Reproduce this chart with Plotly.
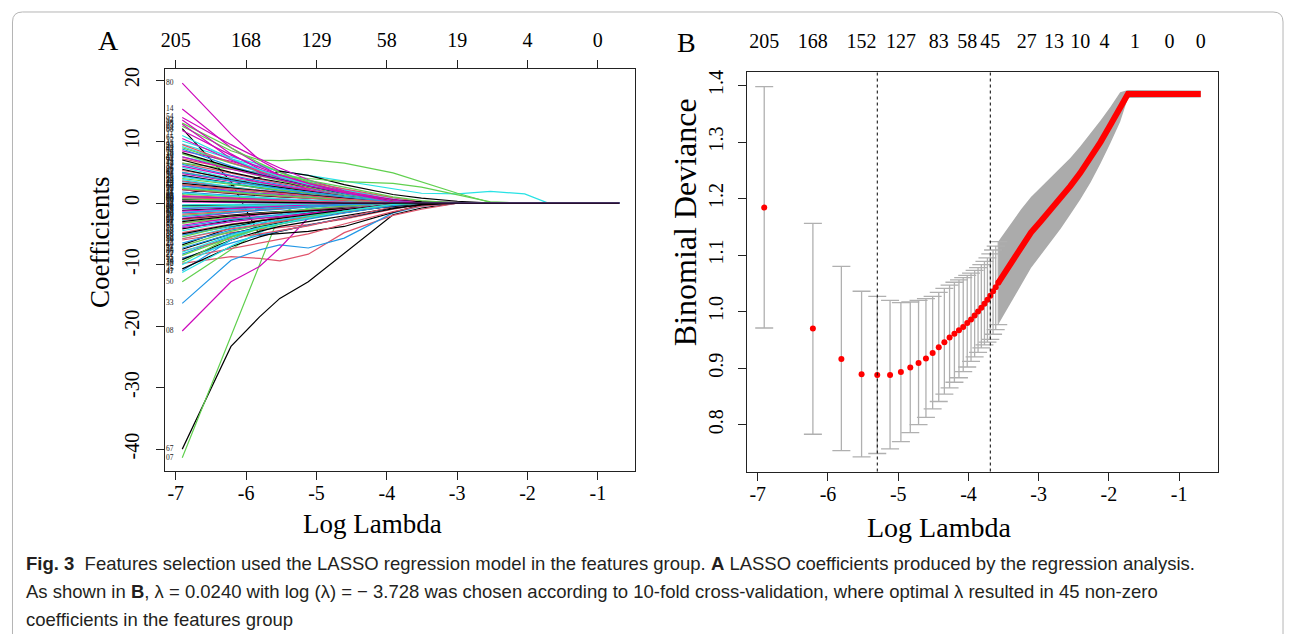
import numpy as np
import plotly.graph_objects as go

# ---------------- Panel A : LASSO coefficient paths ----------------
A_KNOTS_LOGLAM = [-6.908, -6.215, -5.809, -5.521, -5.116, -4.605, -3.912,
                  -3.507, -2.996, -2.526, -2.040, -1.715, -0.693]
A_BOTTOM_TICKS = [-7, -6, -5, -4, -3, -2, -1]
A_BOTTOM_TEXT = ["-7", "-6", "-5", "-4", "-3", "-2", "-1"]
A_TOP_DF = ["205", "168", "129", "58", "19", "4", "0"]
A_Y_TICKS = [-40, -30, -20, -10, 0, 10, 20]
A_Y_TEXT = ["-40", "-30", "-20", "-10", "0", "10", "20"]

A_PATHS = [
    [-40.0, -23.3, -18.5, -15.5, -12.8, -8.2, -1.9, -0.8, 0],
    [-9.8, -8.7, -9.0, -9.4, -8.3, -4.8, -2.0, -1.0, 0],
    [-41.4, -21.7, -10.1, -1.8, 0.4, 0.2, 0],
    [-16.3, -9.3, -7.6, -6.8, -7.3, -5.7, -1.6, -0.5, 0],
    [9.6, 7.2, 6.0, 5.2, 4.5, 3.6, 2.3, 1.6, 1.5, 1.9, 1.5, 0.05, 0],
    [-20.8, -12.8, -10.3, -7.3, -2.4, -0.5, 0],

    [12.1, 3.5, -5.2, -5.0, -4.6, -3.8, -1.5, -0.3, 0],
    [6.5, 4.8, 3.9, 3.2, 2.4, 1.6, 0.6, 0],
    [-12.8, -7.5, -4.5, -2.5, -0.8, 0],
    [-11.0, -6.0, -3.5, -2.2, -1.4, -0.6, 0],
    [10.1, 7.5, 6.3, 5.0, 3.6, 2.2, 0.4, 0],
    [19.5, 11.2, 7.0, 5.2, 3.0, 1.2, 0],

    [1.5, 2.8, 4.2, 5.2, 4.5, 3.0, 1.4, 0.8, 0.3, 0],
    [-6.0, -4.8, -4.3, -4.0, -3.5, -2.6, -1.0, -0.2, 0],
    [12.5, 8.5, 7.0, 6.9, 7.1, 6.5, 4.9, 3.4, 1.6, 0.1, 0],
    [3.5, 2.5, 2.0, 1.6, 1.0, 0.4, 0],
    [7.5, 5.8, 4.6, 3.9, 3.0, 2.1, 0.8, 0.1, 0],
    [15.3, 9.0, 6.2, 4.5, 2.8, 1.2, 0],

    [-10.7, -7.1, -5.5, -4.6, -3.6, -2.5, -0.9, -0.2, 0],
    [-8.9, -7.4, -6.6, -6.0, -5.0, -3.4, -1.4, -0.5, 0],
    [6.5, 5.5, 5.0, 4.6, 4.0, 3.5, 3.2, 2.6, 1.3, 0.2, 0],
    [-9.0, -6.5, -5.2, -4.5, -3.6, -2.4, -0.7, 0],
    [-11.3, -7.0, -4.8, -3.3, -1.8, -0.6, 0],
    [13.9, 9.5, 7.2, 5.7, 3.8, 2.0, 0.3, 0],

    [-9.2, -6.0, -4.6, -3.8, -3.0, -2.1, -0.8, -0.3, 0],
    [7.2, 5.6, 4.8, 4.2, 3.4, 2.3, 0.9, 0.2, 0],
    [13.0, 9.0, 6.5, 5.0, 3.4, 1.8, 0.2, 0],
    [-8.3, -5.4, -4.0, -3.1, -2.0, -0.9, 0],
    [9.2, 6.5, 5.0, 4.1, 3.0, 1.8, 0.3, 0],
    [13.5, 8.0, 5.5, 4.0, 2.5, 1.0, 0],

    [4.5, 3.2, 2.5, 2.0, 1.6, 1.0, 0.4, 0.2, 0.1, 0],
    [-7.8, -5.8, -5.0, -4.5, -3.7, -2.4, -0.6, 0],
    [-9.6, -5.5, -3.8, -2.9, -2.0, -1.0, 0],
    [6.3, 4.5, 3.6, 3.0, 2.2, 1.3, 0.2, 0],
    [-10.0, -6.0, -4.0, -3.0, -2.0, -1.0, 0],
    [12.8, 7.2, 5.0, 3.8, 2.2, 0.8, 0],

    [-4.2, -2.8, -2.4, -2.2, -1.8, -1.3, -0.5, -0.1, 0],
    [5.3, 4.0, 3.3, 2.8, 2.1, 1.2, 0.2, 0],
    [9.0, 6.5, 5.3, 4.6, 3.7, 2.6, 1.0, 0.4, 0],
    [-5.2, -3.8, -3.2, -2.8, -2.2, -1.4, -0.4, 0],
    [5.8, 4.0, 3.2, 2.6, 1.9, 1.0, 0.1, 0],
    [8.5, 6.8, 5.5, 4.5, 3.2, 1.9, 0.6, 0],

    [-1.2, -0.8, -0.7, -0.6, -0.5, -0.3, -0.1, 0],
    [-3.2, -2.5, -2.2, -2.0, -1.6, -1.0, -0.3, 0],
    [3.0, 2.2, 1.8, 1.5, 1.2, 0.7, 0.2, 0],
    [-3.8, -2.7, -2.2, -1.9, -1.4, -0.7, 0],
    [2.5, 1.8, 1.4, 1.2, 0.9, 0.5, 0.1, 0],
    [-2.5, -1.6, -1.2, -1.0, -0.6, -0.2, 0],

    [2.2, 1.5, 1.2, 1.0, 0.8, 0.5, 0.2, 0.1, 0],
    [3.6, 2.6, 2.1, 1.8, 1.4, 0.8, 0.1, 0],
    [-5.5, -3.6, -2.8, -2.4, -1.8, -1.1, -0.3, 0],
    [1.8, 1.2, 0.9, 0.7, 0.5, 0.2, 0],
    [-2.8, -2.0, -1.6, -1.4, -1.0, -0.5, 0],
    [4.8, 3.5, 2.8, 2.3, 1.7, 1.0, 0.2, 0],

    [-6.8, -4.0, -2.9, -2.3, -1.6, -0.9, -0.2, 0],
    [1.2, 0.9, 0.7, 0.6, 0.4, 0.2, 0],
    [-2.0, -1.4, -1.1, -0.9, -0.6, -0.2, 0],
    [4.4, 3.1, 2.4, 2.0, 1.4, 0.7, 0],
    [-1.5, -1.0, -0.8, -0.6, -0.4, -0.1, 0],
    [2.8, 2.0, 1.6, 1.4, 1.0, 0.6, 0.1, 0],

    [0.6, 0.5, 0.4, 0.4, 0.3, 0.2, 0.1, 0],
    [-1.8, -1.3, -1.0, -0.9, -0.6, -0.3, 0],
    [1.5, 1.0, 0.8, 0.6, 0.4, 0.1, 0],
    [-0.9, -0.6, -0.5, -0.4, -0.3, -0.1, 0],
    [3.8, 2.6, 2.0, 1.6, 1.1, 0.5, 0],
    [-0.8, -0.5, -0.4, -0.3, -0.2, 0],

    [-2.6, -1.9, -1.6, -1.4, -1.1, -0.7, -0.2, 0],
    [0.4, 0.3, 0.2, 0.2, 0.1, 0],
    [5.0, 3.6, 2.9, 2.5, 1.9, 1.2, 0.3, 0],
    [1.0, 0.7, 0.5, 0.4, 0.3, 0.1, 0],
    [-4.5, -3.0, -2.4, -2.0, -1.4, -0.8, -0.1, 0],
    [-3.6, -2.4, -1.9, -1.6, -1.1, -0.5, 0],

    [3.2, 2.4, 2.0, 1.7, 1.3, 0.8, 0.3, 0.1, 0],
    [-0.5, -0.4, -0.3, -0.2, -0.1, 0],
    [-3.3, -2.2, -1.7, -1.4, -1.0, -0.5, 0],
    [2.8, 1.9, 1.5, 1.2, 0.8, 0.3, 0],
    [0.8, 0.5, 0.4, 0.3, 0.2, 0],
    [6.0, 4.3, 3.4, 2.8, 2.0, 1.1, 0.2, 0],

    [-0.4, -0.3, -0.2, -0.2, -0.1, 0],
    [2.2, 1.6, 1.3, 1.1, 0.8, 0.4, 0],
    [0.7, 0.5, 0.4, 0.3, 0.2, 0],
    [-2.2, -1.5, -1.2, -1.0, -0.7, -0.3, 0],
    [1.6, 1.1, 0.9, 0.7, 0.5, 0.2, 0],
    [-1.3, -0.9, -0.7, -0.5, -0.3, 0],

    [7.0, 5.0, 4.0, 3.4, 2.6, 1.6, 0.5, 0.1, 0],
    [-2.7, -2.0, -1.7, -1.5, -1.2, -0.7, -0.2, 0],
    [-0.6, -0.4, -0.3, -0.2, -0.1, 0],
    [0.3, 0.2, 0.2, 0.1, 0],
    [-0.3, -0.2, -0.2, -0.1, 0],
    [1.1, 0.8, 0.6, 0.5, 0.3, 0.1, 0],

    [-3.0, -2.1, -1.8, -1.6, -1.3, -0.9, -0.4, -0.1, 0],
    [0.9, 0.6, 0.5, 0.4, 0.3, 0.1, 0],
    [2.4, 1.7, 1.4, 1.2, 0.9, 0.5, 0.1, 0],
    [-1.6, -1.1, -0.9, -0.7, -0.5, -0.2, 0],
    [-0.7, -0.5, -0.4, -0.3, -0.2, 0],
    [0.2, 0.1, 0.1, 0],

    [5.5, 3.8, 3.0, 2.5, 1.9, 1.1, 0.3, 0],
    [-4.8, -3.4, -2.8, -2.4, -1.8, -1.0, -0.2, 0],
    [8.0, 5.6, 4.4, 3.6, 2.6, 1.5, 0.3, 0],
    [-6.5, -4.4, -3.5, -3.0, -2.3, -1.4, -0.3, 0],
    [4.2, 3.2, 2.7, 2.3, 1.8, 1.1, 0.3, 0],
    [10.5, 7.0, 5.2, 4.2, 2.9, 1.6, 0.2, 0],

    [-7.5, -5.0, -3.9, -3.2, -2.4, -1.5, -0.4, 0],
    [9.5, 6.6, 5.2, 4.3, 3.1, 1.8, 0.4, 0],
    [-7.0, -4.6, -3.6, -3.0, -2.2, -1.2, -0.2, 0],
    [8.8, 6.0, 4.7, 3.9, 2.8, 1.5, 0.2, 0],
    [-5.8, -4.0, -3.2, -2.7, -2.0, -1.1, -0.2, 0],
    [-4.0, -3.0, -2.5, -2.2, -1.7, -1.0, -0.2, 0],

    [8.2, 5.8, 4.6, 3.8, 2.8, 1.6, 0.3, 0],
    [-5.8, -4.2, -3.5, -3.0, -2.3, -1.4, -0.3, 0],
    [4.0, 3.0, 2.5, 2.1, 1.6, 1.0, 0.3, 0],
    [-7.3, -5.0, -4.0, -3.4, -2.6, -1.6, -0.4, 0],
    [11.0, 7.2, 5.4, 4.3, 3.0, 1.6, 0.2, 0],
    [7.5, 5.5, 4.5, 3.8, 2.8, 1.7, 0.5, 0],

    [-5.0, -3.5, -2.9, -2.5, -1.9, -1.1, -0.2, 0],
    [3.0, 2.3, 1.9, 1.6, 1.2, 0.7, 0.1, 0],
    [-8.5, -5.6, -4.2, -3.4, -2.4, -1.3, -0.2, 0],
    [5.0, 3.6, 2.9, 2.4, 1.8, 1.0, 0.2, 0],
    [-8.0, -5.2, -4.0, -3.3, -2.4, -1.3, -0.2, 0],
    [11.8, 7.8, 5.8, 4.6, 3.2, 1.7, 0.2, 0],

    [0.3, 0.2, 0.15, 0.1, 0.05, 0],
]

A_LABELS = ["67", "19", "07", "33", "43", "08",
            "64", "72", "50", "41", "17", "80",
            "05", "86", "63", "29", "44", "14",
            "35", "55", "48", "91", "47", "54",
            "12", "61", "38", "77", "23", "92",
            "58", "30", "39", "13", "46", "95",
            "70", "28", "09", "66", "51", "04",
            "15", "81", "25", "59", "36", "02",
            "73", "22", "83", "11", "60", "34",
            "40", "03", "90", "21", "68", "57",
            "16", "76", "31", "88", "24", "01",
            "53", "10", "87", "45", "65", "75",
            "20", "42", "27", "62", "79", "32",
            "84", "37", "06", "56", "18", "49",
            "94", "71", "89", "74", "26", "85",
            "52", "82", "69", "93", "78", "99",
            "96", "98", "18", "27", "36", "65",
            "71", "97", "62", "44", "52", "93",
            "26", "16", "83", "37", "11", "49",
            "58", "74", "22", "61", "05", "88",
            "97"]

# ---------------- Panel B : cross-validation curve ----------------
B_LAMBDA = [0.001, 0.002, 0.003, 0.004, 0.005, 0.006, 0.007, 0.008, 0.009, 0.010,
            0.011, 0.012, 0.013, 0.014, 0.015, 0.016, 0.017, 0.018, 0.019, 0.020,
            0.021, 0.022, 0.023, 0.024, 0.025, 0.026, 0.027, 0.028]
B_CVM = [1.184, 0.970, 0.916, 0.889, 0.888, 0.888, 0.893, 0.901, 0.909, 0.917,
         0.927, 0.937, 0.946, 0.954, 0.961, 0.967, 0.973, 0.980, 0.986, 0.993,
         1.000, 1.007, 1.014, 1.021, 1.028, 1.036, 1.043, 1.051]
B_CVUP = [1.398, 1.156, 1.080, 1.036, 1.027, 1.020, 1.016, 1.017, 1.020, 1.023,
          1.027, 1.034, 1.041, 1.047, 1.052, 1.056, 1.060, 1.064, 1.068, 1.073,
          1.078, 1.083, 1.089, 1.095, 1.102, 1.109, 1.116, 1.124]
B_CVLO = [0.971, 0.783, 0.754, 0.743, 0.749, 0.757, 0.770, 0.786, 0.800, 0.813,
          0.828, 0.841, 0.854, 0.865, 0.875, 0.883, 0.894, 0.902, 0.912, 0.920,
          0.928, 0.936, 0.941, 0.946, 0.951, 0.960, 0.968, 0.977]

B_DENSE_LOGLAM = [-3.576, -3.40, -3.25, -3.11, -2.97, -2.83, -2.69, -2.55,
                  -2.41, -2.26, -2.12, -1.98, -1.84, -1.73, -0.693]
B_DENSE_CVM = [1.051, 1.085, 1.115, 1.140, 1.160, 1.180, 1.200, 1.222,
               1.245, 1.272, 1.300, 1.330, 1.362, 1.385, 1.385]
B_DENSE_UP = [1.124, 1.155, 1.181, 1.203, 1.220, 1.237, 1.254, 1.272,
              1.292, 1.315, 1.338, 1.362, 1.388, 1.392, 1.391]
B_DENSE_LO = [0.977, 1.014, 1.048, 1.077, 1.100, 1.123, 1.146, 1.172,
              1.198, 1.229, 1.262, 1.298, 1.336, 1.378, 1.379]

B_LOG_LAMBDA_MIN = -5.298
B_LOG_LAMBDA_1SE = -3.689
B_TOP_POS = [-6.908, -6.215, -5.521, -4.962, -4.423, -4.017, -3.689,
             -3.170, -2.781, -2.408, -2.064, -1.630, -1.136, -0.693]
B_TOP_DF = ["205", "168", "152", "127", "83", "58", "45",
            "27", "13", "10", "4", "1", "0", "0"]
B_X_TICKS = [-7, -6, -5, -4, -3, -2, -1]
B_X_TEXT = ["-7", "-6", "-5", "-4", "-3", "-2", "-1"]
B_Y_TICKS = [0.8, 0.9, 1.0, 1.1, 1.2, 1.3, 1.4]
B_Y_TEXT = ["0.8", "0.9", "1.0", "1.1", "1.2", "1.3", "1.4"]

CAPTION = [
    "<b>Fig. 3</b>  Features selection used the LASSO regression model in the features group. "
    "<b>A</b> LASSO coefficients produced by the regression analysis.",
    "As shown in <b>B</b>, λ = 0.0240 with log (λ) = − 3.728 was chosen according to 10-fold "
    "cross-validation, where optimal λ resulted in 45 non-zero",
    "coefficients in the features group",
]

# ---------------- styling ----------------
OFF = 8                      # page body margin of the html page
W, H = 1292 - OFF, 634 - OFF
SERIF = "Liberation Serif, Times New Roman, serif"
CAP_FONT = "Liberation Sans, Arial, sans-serif"
PALETTE = ["#000000", "#DF536B", "#61D04F", "#2297E6", "#28E2E5", "#CD0BBC"]
AXC = "#222222"


def fx(px):
    return (px - OFF) / W


def fy(py):
    return 1 - (py - OFF) / H


fig = go.Figure()

# Panel A paths
nk = len(A_KNOTS_LOGLAM)
for i, vals in enumerate(A_PATHS):
    yv = list(vals) + [0.0] * (nk - len(vals))
    fig.add_trace(go.Scatter(
        x=A_KNOTS_LOGLAM, y=yv, mode="lines",
        line=dict(color=PALETTE[i % 6], width=1.2),
        xaxis="x", yaxis="y", hoverinfo="skip", showlegend=False))

# variable labels at the left edge
fig.add_trace(go.Scatter(
    x=[-7.085] * len(A_PATHS), y=[p[0] for p in A_PATHS], text=A_LABELS,
    mode="text", textfont=dict(family=SERIF, size=7.5, color="#222222"),
    xaxis="x", yaxis="y", hoverinfo="skip", showlegend=False))

# invisible anchors so that the top (df) axes are drawn
fig.add_trace(go.Scatter(x=[A_BOTTOM_TICKS[0]], y=[0], mode="markers",
                         marker=dict(opacity=0), xaxis="x3", yaxis="y",
                         hoverinfo="skip", showlegend=False))
fig.add_trace(go.Scatter(x=[B_TOP_POS[0]], y=[1.0], mode="markers",
                         marker=dict(opacity=0), xaxis="x4", yaxis="y2",
                         hoverinfo="skip", showlegend=False))

# Panel B
b_log = np.log(np.array(B_LAMBDA))
fig.add_trace(go.Scatter(
    x=B_DENSE_LOGLAM, y=B_DENSE_UP, mode="lines", line=dict(width=0, color="#ababab"),
    xaxis="x2", yaxis="y2", hoverinfo="skip", showlegend=False))
fig.add_trace(go.Scatter(
    x=B_DENSE_LOGLAM, y=B_DENSE_LO, mode="lines", line=dict(width=0, color="#ababab"),
    fill="tonexty", fillcolor="#ababab",
    xaxis="x2", yaxis="y2", hoverinfo="skip", showlegend=False))
cvm = np.array(B_CVM)
fig.add_trace(go.Scatter(
    x=b_log, y=cvm, mode="markers",
    marker=dict(color="#FF0000", size=6, line=dict(width=0)),
    error_y=dict(type="data", symmetric=False,
                 array=np.array(B_CVUP) - cvm, arrayminus=cvm - np.array(B_CVLO),
                 color="#b0b0b0", thickness=1.3, width=9),
    xaxis="x2", yaxis="y2", hoverinfo="skip", showlegend=False))
fig.add_trace(go.Scatter(
    x=B_DENSE_LOGLAM, y=B_DENSE_CVM, mode="lines",
    line=dict(color="#FF0000", width=6),
    xaxis="x2", yaxis="y2", hoverinfo="skip", showlegend=False))

tickfont = dict(family=SERIF, size=20, color="black")
common = dict(showgrid=False, zeroline=False, ticks="outside", ticklen=8,
              tickcolor=AXC, tickfont=tickfont, tickmode="array")

fig.update_layout(
    width=W, height=H, margin=dict(l=0, r=0, t=0, b=0),
    paper_bgcolor="white", plot_bgcolor="white", showlegend=False,
    xaxis=dict(domain=[fx(161), fx(633)], range=[-7.16, -0.471], anchor="y",
               tickvals=A_BOTTOM_TICKS, ticktext=A_BOTTOM_TEXT,
               showline=True, mirror=True, linecolor=AXC, linewidth=1,
               ticklabelstandoff=-4, **common),
    xaxis3=dict(overlaying="x", side="top", anchor="y", range=[-7.16, -0.471],
                tickvals=A_BOTTOM_TICKS, ticktext=A_TOP_DF, showline=False,
                ticklabelstandoff=5, **common),
    yaxis=dict(domain=[fy(470), fy(67)], range=[-43.48, 21.83], anchor="x",
               tickvals=A_Y_TICKS, ticktext=A_Y_TEXT, tickangle=-90,
               showline=True, mirror=True, linecolor=AXC, linewidth=1,
               ticklabelstandoff=9, **common),
    xaxis2=dict(domain=[fx(745), fx(1218)], range=[-7.157, -0.444], anchor="y2",
                tickvals=B_X_TICKS, ticktext=B_X_TEXT,
                showline=True, mirror=True, linecolor=AXC, linewidth=1,
                ticklabelstandoff=-4, **common),
    xaxis4=dict(overlaying="x2", side="top", anchor="y2", range=[-7.157, -0.444],
                tickvals=B_TOP_POS, ticktext=B_TOP_DF, showline=False,
                ticklabelstandoff=7,
                **{**common, "tickcolor": "rgba(0,0,0,0)"}),
    yaxis2=dict(domain=[fy(471), fy(70)], range=[0.7171, 1.4243], anchor="x2",
                tickvals=B_Y_TICKS, ticktext=B_Y_TEXT, tickangle=-90,
                showline=True, mirror=True, linecolor=AXC, linewidth=1,
                ticklabelstandoff=7, **common),
)

shapes = []
for v in (B_LOG_LAMBDA_MIN, B_LOG_LAMBDA_1SE):
    shapes.append(dict(type="line", xref="x2", yref="y2 domain", x0=v, x1=v, y0=0, y1=1,
                       line=dict(color="black", width=1, dash="3px,3px")))
# rounded figure frame
x0, x1, y0, y1 = fx(8.5), fx(1283), fy(10), fy(650)
rx, ry = 10 / W, 10 / H
path = (f"M {x0 + rx} {y0} L {x1 - rx} {y0} Q {x1} {y0} {x1} {y0 - ry} "
        f"L {x1} {y1 + ry} Q {x1} {y1} {x1 - rx} {y1} L {x0 + rx} {y1} "
        f"Q {x0} {y1} {x0} {y1 + ry} L {x0} {y0 - ry} Q {x0} {y0} {x0 + rx} {y0} Z")
shapes.append(dict(type="path", xref="paper", yref="paper", path=path,
                   line=dict(color="#b5b5b5", width=1), fillcolor="rgba(0,0,0,0)"))
fig.update_layout(shapes=shapes)

ann = []


def add_text(txt, px, py, size, angle=0, family=SERIF, xanchor="center", color="black"):
    ann.append(dict(text=txt, x=fx(px), y=fy(py), xref="paper", yref="paper",
                    showarrow=False, textangle=angle, xanchor=xanchor, yanchor="middle",
                    font=dict(family=family, size=size, color=color)))


add_text("A", 105, 39, 28)
add_text("B", 685, 41, 28)
add_text("Coefficients", 97, 241, 27, angle=-90)
add_text("Log Lambda", 370, 524, 27)
add_text("Binomial Deviance", 683, 221, 32, angle=-90)
add_text("Log Lambda", 938, 527, 28)
for i, line in enumerate(CAPTION):
    add_text(line, 20, 563 + 28 * i, 18.5, family=CAP_FONT, xanchor="left", color="#231f20")
fig.update_layout(annotations=ann)

fig.write_html("out.html")
